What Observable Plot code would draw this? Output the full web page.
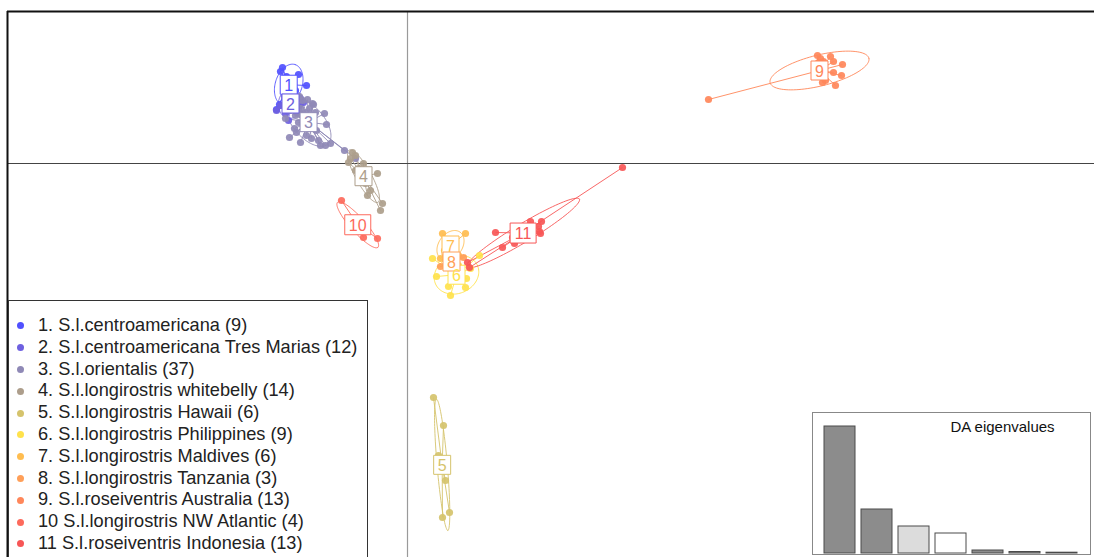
<!DOCTYPE html>
<html>
<head>
<meta charset="utf-8">
<script src="https://cdn.jsdelivr.net/npm/d3@7"></script>
<script src="https://cdn.jsdelivr.net/npm/@observablehq/plot@0.6"></script>
<style>
  html, body { margin: 0; padding: 0; background: #fff; }
  body { font-family: "Liberation Sans", Arial, sans-serif; }
  #wrap { position: relative; width: 1094px; height: 557px; overflow: hidden; background: #fff; }
  #legend { position: absolute; left: 8px; top: 300px; width: 360px; height: 270px; border: 1px solid #333; background: #fff; box-sizing: border-box; padding-top: 14px; }
  .item { height: 21.8px; line-height: 21.8px; font-size: 18.2px; color: #222; white-space: nowrap; position: relative; padding-left: 29px; }
  .item .sw { position: absolute; left: 8px; top: 7.4px; width: 7px; height: 7px; border-radius: 50%; }
  #inset { position: absolute; left: 812px; top: 412px; border: 1px solid #888; background: #fff; width: 277px; height: 141px; }
  #inset svg, #main svg { display: block; }
</style>
</head>
<body>
<div id="wrap">
  <div id="main"></div>
  <div id="legend"></div>
  <div id="inset"></div>
</div>
<script>
// ---- Data (discriminant function scores, LD1 / LD2) ----
const groupLabels = ["1","2","3","4","5","6","7","8","9","10","11"];
const groupNames = [
  "1. S.l.centroamericana (9)",
  "2. S.l.centroamericana Tres Marias (12)",
  "3. S.l.orientalis (37)",
  "4. S.l.longirostris whitebelly (14)",
  "5. S.l.longirostris Hawaii (6)",
  "6. S.l.longirostris Philippines (9)",
  "7. S.l.longirostris Maldives (6)",
  "8. S.l.longirostris Tanzania (3)",
  "9. S.l.roseiventris Australia (13)",
  "10 S.l.longirostris NW Atlantic (4)",
  "11 S.l.roseiventris Indonesia (13)"
];
const groupColors = ["#5050ff","#6e60e0","#8f89b6","#ad9e8b","#d5c36c","#ffe24c","#ffbd50","#ff9f58","#ff875a","#fd6a5c","#f75656"];

const g1 = [[-12.5,9.6],[-12.7,9.2],[-10.9,8.9],[-12.1,8.7],[-11.5,8.1],[-11.2,7.3],[-13.1,5.4],[-12.8,5.9],[-10.1,7.8]];
const g2 = [[-13.1,5.3],[-12.7,5.8],[-10.7,6.5],[-11.1,5.1],[-11.9,4.3],[-12.3,6.7],[-10.9,5.7],[-10.4,6.1],[-11.5,7.1],[-12.2,5.0],[-11.3,6.3],[-12.3,8.1]];
const g3 = [[-11.8,2.6],[-10.7,2.1],[-8.1,3.9],[-8.3,5.0],[-9.5,6.0],[-8.7,1.8],[-8.2,1.8],[-6.3,1.3],[-5.2,0.5],[-10.0,6.4],
            [-9.4,5.9],[-10.9,4.1],[-9.1,3.3],[-7.7,2.0],[-11.2,4.8],[-8.9,2.3],[-10.2,5.1],[-10.7,5.5],[-9.7,4.5],[-10.4,3.8],
            [-11.1,5.8],[-9.9,3.5],[-11.7,5.3],[-10.5,6.3],[-9.2,5.1],[-11.3,3.5],[-10.1,2.8],[-12.2,4.5],[-9.5,4.1],[-10.8,6.7],
            [-9.8,5.5],[-11.5,6.3],[-10.3,4.5],[-11.1,3.1],[-11.9,5.8],[-9.6,2.5],[-10.6,4.9]];
const g4 = [[-5.5,1.1],[-5.2,0.8],[-4.4,0.0],[-3.0,-1.0],[-3.7,-2.7],[-2.5,-4.0],[-2.7,-4.7],[-4.2,-2.0],[-4.0,-3.2],[-5.7,0.5],[-4.9,-0.5],[-4.7,-1.5],[-5.9,0.1],[-5.2,-0.7]];
const g5 = [[2.6,-23.4],[3.6,-26.2],[3.8,-31.7],[3.5,-35.4],[4.2,-34.9],[3.1,-29.2]];
const g6 = [[2.5,-9.5],[7.2,-9.2],[4.3,-13.2],[5.8,-12.4],[5.9,-11.5],[2.9,-11.3],[5.1,-10.2],[4.1,-12.3],[6.3,-10.5]];
const g7 = [[3.5,-7.0],[5.8,-7.0],[3.3,-9.5],[3.7,-8.7],[5.1,-9.2],[4.4,-7.8]];
const g8 = [[3.3,-10.3],[5.6,-9.4],[4.3,-9.7]];
const g9 = [[30.1,6.4],[41.0,10.8],[42.6,10.2],[43.5,9.9],[43.4,8.8],[42.8,7.8],[42.6,9.1],[41.3,10.5],[41.8,8.3],[42.3,10.7],[41.5,8.1],[41.1,10.1],[41.6,10.2]];
const g10 = [[-6.6,-3.7],[-4.4,-7.4],[-3.0,-7.5],[-5.9,-5.9]];
const g11 = [[21.5,-0.4],[8.8,-6.9],[10.5,-7.4],[10.7,-8.0],[9.5,-8.4],[6.0,-9.9],[6.2,-10.4],[12.3,-5.8],[13.1,-6.3],[13.2,-6.8],[13.4,-5.8],[11.8,-7.3],[13.3,-7.0]];
const groups = [g1,g2,g3,g4,g5,g6,g7,g8,g9,g10,g11];

const eigenvalues = [127, 44, 27, 20, 3, 1.5, 0.8];

// ---- Derived tables ----
const pts = groups.flatMap((g, i) => g.map(([x, y]) => ({x, y, grp: i, color: groupColors[i]})));
const cents = groups.map((g, i) => {
  const n = g.length;
  const mx = d3.mean(g, d => d[0]), my = d3.mean(g, d => d[1]);
  let cxx = 0, cyy = 0, cxy = 0;
  for (const [x, y] of g) { cxx += (x-mx)**2; cyy += (y-my)**2; cxy += (x-mx)*(y-my); }
  cxx /= n; cyy /= n; cxy /= n;
  return {x: mx, y: my, cxx, cyy, cxy, grp: i, color: groupColors[i], label: groupLabels[i]};
});
const links = pts.map(p => ({x1: cents[p.grp].x, y1: cents[p.grp].y, x2: p.x, y2: p.y, color: p.color}));
const cell = 1.5;
const ell = cents.flatMap(c => {
  const tr = (c.cxx + c.cyy) / 2, df = Math.sqrt(((c.cxx - c.cyy) / 2) ** 2 + c.cxy ** 2);
  const l1 = tr + df, l2 = Math.max(tr - df, 0);
  const th = 0.5 * Math.atan2(2 * c.cxy, c.cxx - c.cyy);
  const a = cell * Math.sqrt(l1), b = cell * Math.sqrt(l2);
  return d3.range(0, 101).map(k => {
    const t = 2 * Math.PI * k / 100;
    return {
      x: c.x + a * Math.cos(t) * Math.cos(th) - b * Math.sin(t) * Math.sin(th),
      y: c.y + a * Math.cos(t) * Math.sin(th) + b * Math.sin(t) * Math.cos(th),
      grp: c.grp, color: c.color
    };
  });
});

const boxSingle = {draw(ctx) { ctx.rect(-8.5, -9.5, 17, 19); }};
const boxDouble = {draw(ctx) { ctx.rect(-13, -10, 26, 20); }};

const xDom = [-40, 68.7], yDom = [-39.4, 15.2];

const main = Plot.plot({
  width: 1094, height: 557,
  marginTop: 11, marginLeft: 7, marginRight: 0, marginBottom: 0,
  x: {domain: xDom, axis: null},
  y: {domain: yDom, axis: null},
  color: {type: "identity"},
  style: {fontFamily: "'Liberation Sans', Arial, sans-serif", background: "transparent"},
  marks: [
    Plot.ruleX([0], {stroke: "#9a9a9a", strokeWidth: 1.2}),
    Plot.ruleY([0], {stroke: "#444", strokeWidth: 1}),
    Plot.line(ell, {x: "x", y: "y", z: "grp", stroke: "color", strokeWidth: 1, strokeOpacity: 0.9, curve: "linear"}),
    Plot.link(links, {x1: "x1", y1: "y1", x2: "x2", y2: "y2", stroke: "color", strokeWidth: 1, strokeOpacity: 0.9}),
    Plot.dot(pts, {x: "x", y: "y", fill: "color", r: 3.6, fillOpacity: 0.92}),
    Plot.dot(cents.filter(c => c.label.length === 1), {x: "x", y: "y", symbol: boxSingle, fill: "white", stroke: "color", strokeWidth: 1, r: 5}),
    Plot.dot(cents.filter(c => c.label.length > 1), {x: "x", y: "y", symbol: boxDouble, fill: "white", stroke: "color", strokeWidth: 1, r: 5}),
    Plot.text(cents, {x: "x", y: "y", text: "label", fill: "color", fontSize: 16, dy: 1}),
    Plot.ruleY([yDom[1]], {stroke: "#111", strokeWidth: 2}),
    Plot.ruleX([xDom[0]], {stroke: "#111", strokeWidth: 2})
  ]
});
document.getElementById("main").appendChild(main);

// legend
const leg = document.getElementById("legend");
groupNames.forEach((name, i) => {
  const div = document.createElement("div");
  div.className = "item";
  const sw = document.createElement("span");
  sw.className = "sw";
  sw.style.background = groupColors[i];
  div.appendChild(sw);
  div.appendChild(document.createTextNode(name));
  leg.appendChild(div);
});

// eigenvalue inset
const eigFill = (i) => i < 2 ? "#8c8c8c" : i === 2 ? "#dcdcdc" : i === 3 ? "#ffffff" : "#8c8c8c";
const inset = Plot.plot({
  width: 277, height: 141,
  marginTop: 13, marginBottom: 1, marginLeft: 9, marginRight: 10,
  x: {type: "band", domain: d3.range(eigenvalues.length), axis: null, paddingInner: 0.15, paddingOuter: 0},
  y: {domain: [0, 127], axis: null},
  style: {fontFamily: "'Liberation Sans', Arial, sans-serif", background: "transparent"},
  marks: [
    Plot.barY(eigenvalues, {x: (d, i) => i, y: d => d, fill: (d, i) => eigFill(i), stroke: "#4a4a4a", strokeWidth: 1}),
    Plot.text(["DA eigenvalues"], {frameAnchor: "top", dx: 51, dy: 1, lineAnchor: "middle", fontSize: 15, fill: "#111"})
  ]
});
document.getElementById("inset").appendChild(inset);
</script>
</body>
</html>
